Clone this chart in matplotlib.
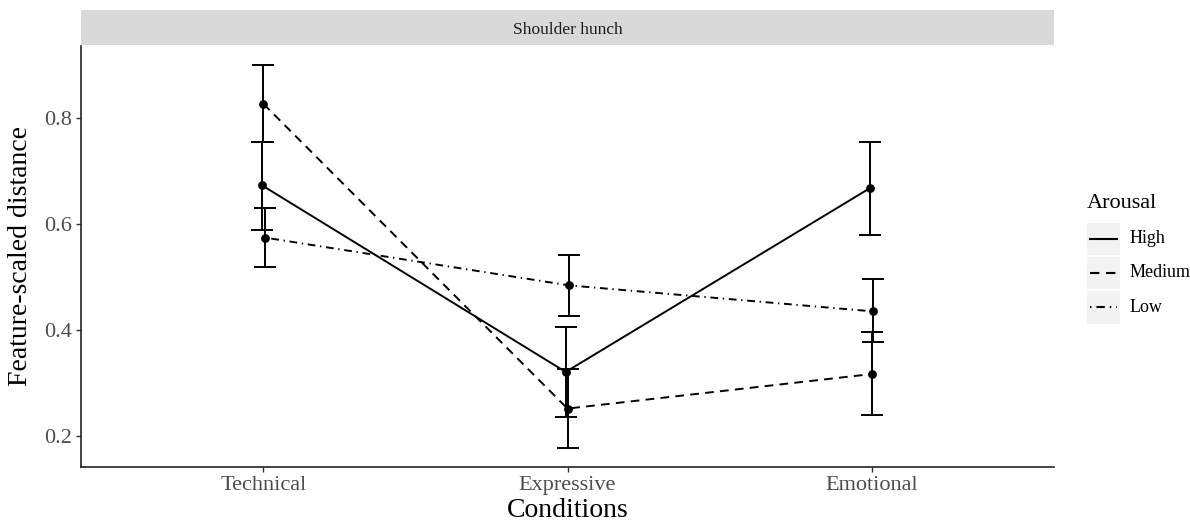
import matplotlib
matplotlib.use("Agg")
import matplotlib.pyplot as plt
from matplotlib.patches import Rectangle
import numpy as np

plt.rcParams['font.family'] = ['Liberation Serif', 'DejaVu Serif']

conditions = ["Technical", "Expressive", "Emotional"]
groups = ["High", "Medium", "Low"]
high_mean = [0.673, 0.321, 0.667]
high_lo = [0.589, 0.236, 0.579]
high_hi = [0.755, 0.405, 0.755]
med_mean = [0.826, 0.252, 0.317]
med_lo = [0.755, 0.178, 0.240]
med_hi = [0.899, 0.326, 0.396]
low_mean = [0.574, 0.484, 0.435]
low_lo = [0.519, 0.426, 0.378]
low_hi = [0.629, 0.541, 0.496]
yticks = [0.2, 0.4, 0.6, 0.8]

W, H = 1190, 524
fig = plt.figure(figsize=(W / 100, H / 100), dpi=100)
L, R, B, T = 81, 1054, 466.7, 46
ax = fig.add_axes([L / W, 1 - B / H, (R - L) / W, (B - T) / H])

styles = {
    "High": '-',
    "Medium": (0, (4.5, 3.2)),
    "Low": (0, (0.7, 2.4, 4, 2.4)),
}
data = {
    "High": (high_mean, high_lo, high_hi, -0.006),
    "Medium": (med_mean, med_lo, med_hi, 0.0),
    "Low": (low_mean, low_lo, low_hi, 0.006),
}
xbase = np.arange(1, len(conditions) + 1)
for g in groups:
    m, lo, hi, off = data[g]
    m = np.array(m); lo = np.array(lo); hi = np.array(hi)
    x = xbase + off
    ax.plot(x, m, color='black', lw=1.4, linestyle=styles[g], zorder=2)
    ax.errorbar(x, m, yerr=[m - lo, hi - m], fmt='none', ecolor='black',
                elinewidth=1.4, capsize=8, capthick=1.4, zorder=3)
    ax.scatter(x, m, s=28, color='black', zorder=4)

ax.set_xlim(0.4, 3.6)
ax.set_ylim(0.1425, 0.935)
ax.set_xticks(xbase)
ax.set_xticklabels(conditions, fontsize=16, color='#4D4D4D')
ax.set_yticks(yticks)
ax.set_yticklabels([f"{v:.1f}" for v in yticks], fontsize=16, color='#4D4D4D')
ax.tick_params(axis='both', length=3.5, width=1, color='#333333', pad=3)
for s in ['top', 'right']:
    ax.spines[s].set_visible(False)
for s in ['left', 'bottom']:
    ax.spines[s].set_linewidth(1.2)
    ax.spines[s].set_color('#222222')
ax.set_xlabel("Conditions", fontsize=20, labelpad=2)
ax.set_ylabel("Feature-scaled distance", fontsize=20, labelpad=8)

# overlay for strip (pixel coords)
ov = fig.add_axes([0, 0, 1, 1], zorder=-1)
ov.set_xlim(0, W); ov.set_ylim(H, 0); ov.axis('off')
ov.add_patch(Rectangle((L, 10), R - L, 35, facecolor='#D9D9D9', edgecolor='none'))
ov.text((L + R) / 2, 29.5, "Shoulder hunch", ha='center', va='center', fontsize=12.5, color='#1A1A1A')

# legend overlay
ov2 = fig.add_axes([0, 0, 1, 1], zorder=5)
ov2.set_xlim(0, W); ov2.set_ylim(H, 0); ov2.axis('off')
ov2.patch.set_alpha(0)
ov2.text(1087, 203, "Arousal", ha='left', va='center', fontsize=16)
key_y = [222.7, 256.7, 291]
for g, ky in zip(groups, key_y):
    ov2.add_patch(Rectangle((1087, ky), 32.5, 32.5, facecolor='#F2F2F2', edgecolor='none'))
    ov2.plot([1089.5, 1116.5], [ky + 16.25, ky + 16.25], color='black', lw=1.5, linestyle=styles[g])
    ov2.text(1130, ky + 16.25, g, ha='left', va='center', fontsize=13)

fig.savefig("out.png", dpi=100)
